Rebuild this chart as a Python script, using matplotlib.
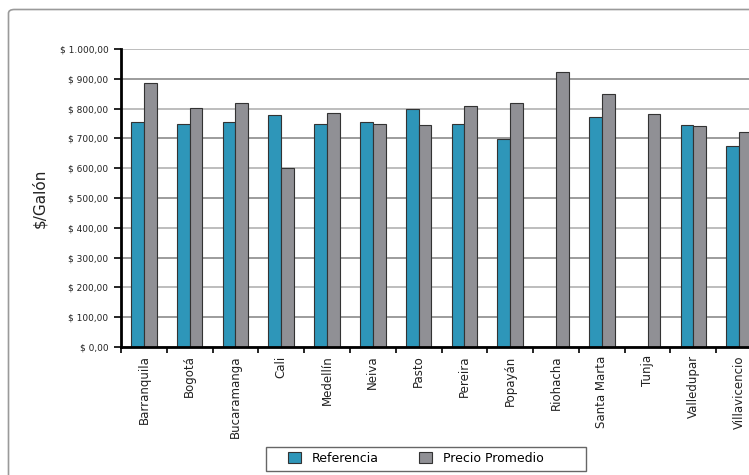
import numpy as np
import matplotlib.pyplot as plt
from matplotlib.patches import FancyBboxPatch, Rectangle
from matplotlib.ticker import FuncFormatter, FixedLocator

ciudades = ['Barranquila', 'Bogotá', 'Bucaramanga', 'Cali', 'Medellín', 'Neiva',
            'Pasto', 'Pereira', 'Popayán', 'Riohacha', 'Santa Marta', 'Tunja',
            'Valledupar', 'Villavicencio']
# Riohacha and Tunja have no reference price
referencia = [756, 750, 756, 780, 750, 756, 800, 750, 697, np.nan, 771, np.nan, 746, 676]
precio_promedio = [887, 802, 820, 600, 786, 750, 746, 809, 819, 924, 849, 781, 743, 722]

fig = plt.figure(figsize=(7.49, 4.75), dpi=100)

# outer chart frame (cut off at right/bottom like the original)
frame = FancyBboxPatch((8.5 / 749, -0.05), 1.1, 1 - 9.5 / 475 + 0.05,
                       boxstyle='round,pad=0,rounding_size=0.008',
                       transform=fig.transFigure, fill=False,
                       edgecolor='#9a9a9a', linewidth=1.2)
fig.patches.append(frame)

ax = fig.add_axes([121 / 749, 1 - 347 / 475, 641 / 749, 298 / 475])

x = np.arange(len(ciudades))
w = 0.28
ax.bar(x - w / 2, referencia, w, color='#2e96b9', edgecolor='#333333',
       linewidth=0.8, label='Referencia', zorder=3)
ax.bar(x + w / 2, precio_promedio, w, color='#909095', edgecolor='#333333',
       linewidth=0.8, label='Precio Promedio', zorder=3)

ax.set_xlim(-0.5, len(ciudades) - 0.5)
ax.set_ylim(0, 1000)
ax.set_yticks(np.arange(0, 1001, 100))


def fmt(v, pos):
    s = f'{v:,.2f}'.replace(',', 'X').replace('.', ',').replace('X', '.')
    return '$ ' + s


ax.yaxis.set_major_formatter(FuncFormatter(fmt))
ax.tick_params(axis='y', labelsize=6.5, length=5, width=1.2, color='black',
               pad=4, labelcolor='#222222')

ax.set_xticks(x)
ax.set_xticklabels(ciudades, rotation=90, fontsize=8.5, color='#222222')
ax.tick_params(axis='x', which='major', length=0, pad=6)
ax.xaxis.set_minor_locator(FixedLocator(np.arange(-0.5, len(ciudades), 1)))
ax.tick_params(axis='x', which='minor', length=4, width=1.2, color='black')

ax.yaxis.grid(True, linewidth=1.4, zorder=0)
for i, gl in enumerate(ax.get_ygridlines()):
    gl.set_color('#9c9c9c' if i % 2 == 1 else '#bdbdbd')

for s in ['top', 'right']:
    ax.spines[s].set_visible(False)
ax.spines['left'].set_linewidth(2)
ax.spines['bottom'].set_linewidth(2)
ax.spines['left'].set_zorder(4)
ax.spines['bottom'].set_zorder(4)

fig.text(40 / 749, 1 - 198 / 475, '$/Galón', rotation=90, fontsize=11,
         ha='center', va='center', color='#222222')

# legend box
box = Rectangle((266 / 749, 1 - 470.5 / 475), 320 / 749, 23.5 / 475,
                transform=fig.transFigure, fill=False,
                edgecolor='#666666', linewidth=1.0)
fig.patches.append(box)
leg = fig.legend(loc='center', bbox_to_anchor=(416 / 749, 1 - 458.5 / 475),
                 ncol=2, fontsize=9, frameon=False,
                 handlelength=1.0, handleheight=1.0,
                 columnspacing=3.2, handletextpad=0.9)

fig.savefig('out.png', dpi=100)
